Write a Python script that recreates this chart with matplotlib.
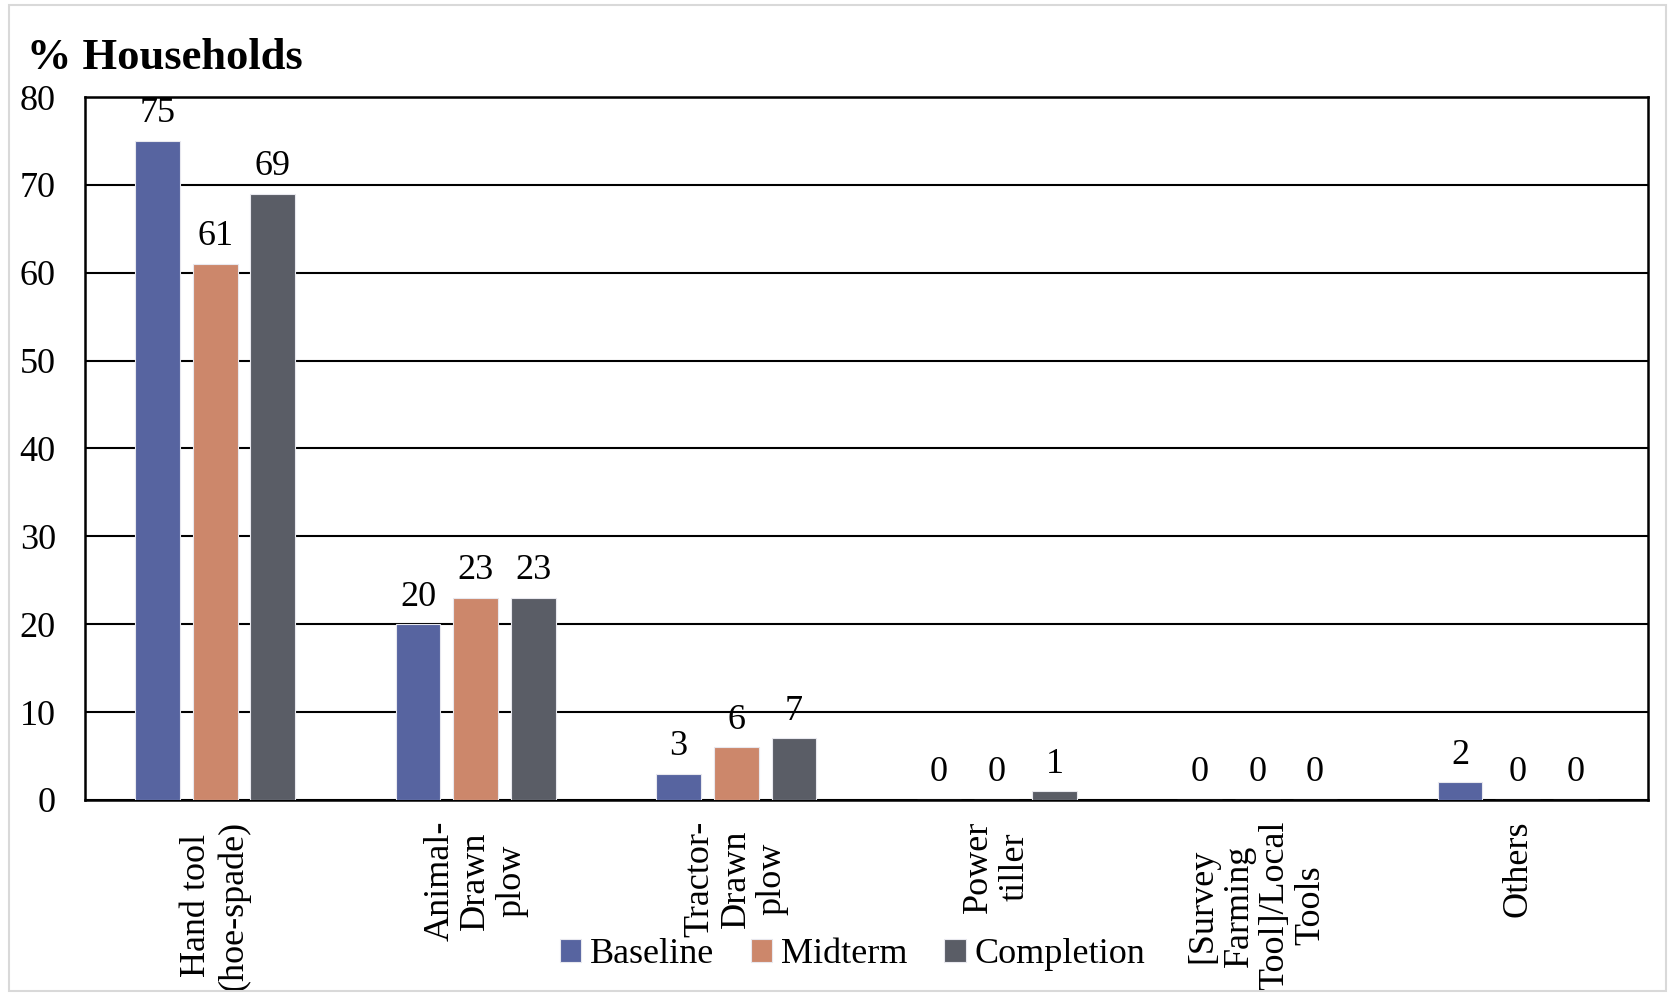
import numpy as np
import matplotlib.pyplot as plt
from matplotlib.patches import Rectangle

plt.rcParams['font.family'] = ['Liberation Serif', 'DejaVu Serif']

# 데이터
categories = ['Hand tool\n(hoe-spade)', 'Animal-\nDrawn\nplow', 'Tractor-\nDrawn\nplow',
              'Power\ntiller', '[Survey\nFarming\nTool]/Local\nTools', 'Others']
series = ['Baseline', 'Midterm', 'Completion']
baseline = [75, 20, 3, 0, 0, 2]
midterm = [61, 23, 6, 0, 0, 0]
completion = [69, 23, 7, 1, 0, 0]
colors = ['#5764A0', '#CC876B', '#5A5D66']

fig = plt.figure(figsize=(16.75, 9.93), dpi=100)
ax = fig.add_axes([0.0507, 0.1944, 0.9332, 0.7079])

# 바깥 테두리
fig.patches.append(Rectangle((0.0054, 0.002), 0.989, 0.993, transform=fig.transFigure,
                             fill=False, edgecolor='#D9D9D9', linewidth=1.5))

x = np.arange(len(categories))
width = 0.172
step = 0.2215
for k, (name, vals) in enumerate(zip(series, [baseline, midterm, completion])):
    pos = x + (k - 1) * step
    ax.bar(pos, vals, width, color=colors[k], edgecolor='#E8E8EE',
           linewidth=0.8, label=name, zorder=3)
    # 막대 위 수치
    for xp, v in zip(pos, vals):
        ax.annotate(f'{v}', (xp, v), xytext=(0, 19.5), textcoords='offset points',
                    ha='center', va='center', fontsize=26, zorder=4)

ax.set_xlim(-0.5, len(categories) - 0.5)
ax.set_ylim(0, 80)
ax.set_yticks(range(0, 81, 10))
ax.yaxis.grid(True, color='black', linewidth=1.5, zorder=0)
ax.set_axisbelow(True)
for s in ax.spines.values():
    s.set_color('black')
    s.set_linewidth(1.8)

ax.set_xticks(x)
ax.set_xticklabels(categories, rotation=90, ha='center', va='top',
                   multialignment='center', fontsize=26, linespacing=1.12)
ax.tick_params(axis='x', length=0, pad=15)
ax.tick_params(axis='y', length=0, pad=21, labelsize=26)

fig.text(0.016, 0.942, '% Households', fontsize=32, fontweight='bold',
         ha='left', va='center')

fig.legend(loc='center', bbox_to_anchor=(0.509, 0.039), ncol=3, frameon=False,
           fontsize=26, handlelength=0.6, handleheight=0.6, handletextpad=0.25,
           columnspacing=1.0)

fig.savefig('out.png', dpi=100)
